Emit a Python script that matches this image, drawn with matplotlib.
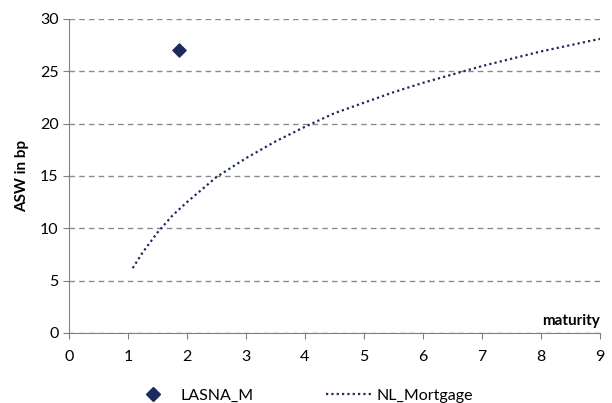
import matplotlib
matplotlib.use("Agg")
import matplotlib.pyplot as plt
from matplotlib.lines import Line2D

plt.rcParams['font.family'] = ['Lato', 'DejaVu Sans']

lasna_x = [1.87]
lasna_y = [27.0]

curve_x = [1.08, 1.25, 1.5, 1.75, 2.0, 2.5, 3.0, 3.5, 4.0, 4.5, 5.0, 5.5, 6.0, 6.5, 7.0, 7.5, 8.0, 8.5, 9.0]
curve_y = [6.2, 7.7, 9.6, 11.2, 12.5, 14.9, 16.7, 18.3, 19.7, 21.0, 22.0, 23.0, 23.9, 24.7, 25.5, 26.2, 26.9, 27.5, 28.1]

xticks = [0, 1, 2, 3, 4, 5, 6, 7, 8, 9]
yticks = [0, 5, 10, 15, 20, 25, 30]

navy = '#1c2a5e'
fig = plt.figure(figsize=(6.12, 4.03), dpi=100)
ax = fig.add_axes([0.1127, 0.1737, 0.8676, 0.7792])

ax.plot(curve_x, curve_y, linestyle=(0, (1, 1.4)), color=navy, linewidth=1.6)
ax.scatter(lasna_x, lasna_y, marker='D', s=45, color=navy, zorder=3)

ax.set_xlim(0, 9)
ax.set_ylim(0, 30)
ax.set_xticks(xticks)
ax.set_yticks(yticks)
ax.tick_params(axis='both', labelsize=11.5, colors='#808080', labelcolor='black', length=4, direction='out')
ax.tick_params(axis='x', pad=8)
for s in ['top', 'right']:
    ax.spines[s].set_visible(False)
for s in ['left', 'bottom']:
    ax.spines[s].set_color('#808080')
ax.yaxis.grid(True, linestyle=(0, (4, 3)), color='#8a8a8a', linewidth=1.0)
ax.set_axisbelow(True)

ax.set_ylabel('ASW in bp', fontsize=11, fontweight='bold', labelpad=8)
ax.text(9, 0.5, 'maturity', ha='right', va='bottom', fontsize=11, fontweight='bold')

handles = [
    Line2D([], [], marker='D', linestyle='none', color=navy, markersize=7),
    Line2D([], [], linestyle=(0, (1, 1.4)), color=navy, linewidth=1.6),
]
fig.legend(handles, ['LASNA_M', 'NL_Mortgage'], loc='lower left', bbox_to_anchor=(0.19, -0.035),
           ncol=2, frameon=False, fontsize=11.5, columnspacing=4.5, handlelength=2.8,
           handletextpad=0.35)

fig.savefig('out.png', dpi=100)
